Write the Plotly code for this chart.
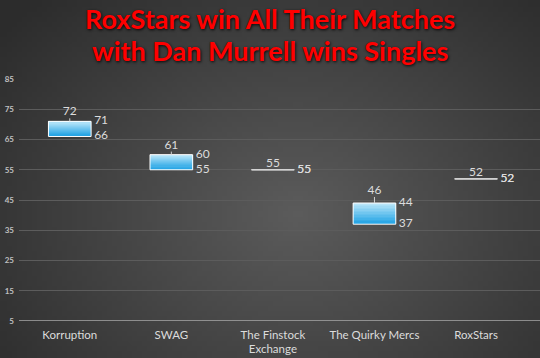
import base64, struct, zlib
import plotly.graph_objects as go

# ---- data ----
teams = ["Korruption", "SWAG", "The Finstock<br>Exchange", "The Quirky Mercs", "RoxStars"]
open_ = [66, 55, 55, 37, 52]
high = [72, 61, 55, 46, 52]
low = [66, 55, 55, 37, 52]
close = [71, 60, 55, 44, 52]
y_ticks = [5, 15, 25, 35, 45, 55, 65, 75, 85]

title_lines = ["RoxStars win All Their Matches", "with Dan Murrell wins Singles"]

W, H = 540, 358
ML, MR, MT, MB = 19, 0, 79, 37
BOX_W = 0.42
LABEL_COLOR = "#dcdcdc"

# ---- background radial gradient as a small PNG ----
def make_png(w, h, cx, cy, inner, outer):
    raw = b""
    for j in range(h):
        raw += b"\x00"
        for i in range(w):
            dx = (i / (w - 1) - cx) * 1.2
            dy = (j / (h - 1) - cy)
            d = min(1.0, (dx * dx + dy * dy) ** 0.5 / 0.85)
            c = [int(inner[k] + (outer[k] - inner[k]) * d) for k in range(3)]
            raw += bytes(c)
    def chunk(t, data):
        return struct.pack(">I", len(data)) + t + data + struct.pack(">I", zlib.crc32(t + data) & 0xffffffff)
    png = b"\x89PNG\r\n\x1a\n"
    png += chunk(b"IHDR", struct.pack(">IIBBBBB", w, h, 8, 2, 0, 0, 0))
    png += chunk(b"IDAT", zlib.compress(raw, 9))
    png += chunk(b"IEND", b"")
    return "data:image/png;base64," + base64.b64encode(png).decode()

bg = make_png(108, 72, 0.55, 0.6, (92, 92, 92), (44, 44, 44))

x = list(range(len(teams)))
fig = go.Figure()

# gradient boxes (open -> close), layered slices
N = 14
bottom_c = (26, 160, 228)
top_c = (190, 232, 250)
for k in range(N):
    t = (k + 0.5) / N
    col = "rgb(%d,%d,%d)" % tuple(int(bottom_c[m] + (top_c[m] - bottom_c[m]) * t) for m in range(3))
    bases, heights = [], []
    for o, c in zip(open_, close):
        lo, hi = min(o, c), max(o, c)
        hgt = hi - lo
        bases.append(lo + hgt * k / N)
        heights.append(hgt / N)
    fig.add_trace(go.Bar(x=x, y=heights, base=bases, width=BOX_W, marker=dict(color=col, line=dict(width=0)),
                         hoverinfo="skip", showlegend=False))

# box outlines
fig.add_trace(go.Bar(x=x, y=[abs(c - o) for o, c in zip(open_, close)], base=[min(o, c) for o, c in zip(open_, close)],
                     width=BOX_W, marker=dict(color="rgba(0,0,0,0)", line=dict(color="white", width=1)),
                     hoverinfo="skip", showlegend=False))

# flat (doji) candles as horizontal lines
fx, fy = [], []
for i, (o, c) in enumerate(zip(open_, close)):
    if o == c:
        fx += [i - BOX_W / 2, i + BOX_W / 2, None]
        fy += [c, c, None]
fig.add_trace(go.Scatter(x=fx, y=fy, mode="lines", line=dict(color="#c8c8c8", width=1.2),
                         hoverinfo="skip", showlegend=False))

# whiskers (high/low lines)
wx, wy = [], []
for i in x:
    top = max(open_[i], close[i])
    bot = min(open_[i], close[i])
    if high[i] > top:
        wx += [i, i, None]; wy += [top, high[i], None]
    if low[i] < bot:
        wx += [i, i, None]; wy += [bot, low[i], None]
fig.add_trace(go.Scatter(x=wx, y=wy, mode="lines", line=dict(color="#d0d0d0", width=1),
                         hoverinfo="skip", showlegend=False))

lab_font = dict(family="Lato, Open Sans, sans-serif", size=12, color=LABEL_COLOR)
LAB_DX = BOX_W / 2 + 0.03
# high labels
fig.add_trace(go.Scatter(x=x, y=high, mode="text", text=[str(v) for v in high], textposition="top center",
                         textfont=lab_font, hoverinfo="skip", showlegend=False))
# close labels
fig.add_trace(go.Scatter(x=[i + LAB_DX for i in x], y=close, mode="text", text=[str(v) for v in close],
                         textposition="middle right", textfont=lab_font, hoverinfo="skip", showlegend=False))
# low labels
fig.add_trace(go.Scatter(x=[i + LAB_DX for i in x], y=low, mode="text", text=[str(v) for v in low],
                         textposition="middle right", textfont=lab_font, hoverinfo="skip", showlegend=False))

pw = W - ML - MR
ph = H - MT - MB
title_font = dict(family="Lato, Open Sans, sans-serif", size=27, color="#ff0000", weight="bold",
                  shadow="1px 1px 3px rgba(0,0,0,0.9)")
title_y_px = [19, 51]
annotations = [dict(text=line, xref="paper", yref="paper", x=(W / 2 - ML) / pw, xanchor="center",
                    y=1 + (MT - ypx) / ph, yanchor="middle", showarrow=False, font=title_font)
               for line, ypx in zip(title_lines, title_y_px)]

fig.update_layout(
    width=W, height=H,
    margin=dict(l=ML, r=MR, t=MT, b=MB, pad=0, autoexpand=False),
    paper_bgcolor="#404040",
    plot_bgcolor="rgba(0,0,0,0)",
    barmode="overlay",
    bargap=0,
    showlegend=False,
    hovermode=False,
    annotations=annotations,
    images=[dict(source=bg, xref="paper", yref="paper", x=-ML / pw, y=1 + MT / ph,
                 sizex=W / pw, sizey=H / ph, sizing="stretch", layer="below", xanchor="left", yanchor="top")],
    xaxis=dict(range=[-0.5, 4.63], tickmode="array", tickvals=x, ticktext=teams, automargin=False,
               showgrid=False, zeroline=False, showline=False, ticks="",
               tickfont=dict(family="Lato, Open Sans, sans-serif", size=11.5, color=LABEL_COLOR),
               ticklabelstandoff=5),
    yaxis=dict(range=[5, 85], tickmode="array", tickvals=y_ticks, ticktext=[str(v) for v in y_ticks],
               automargin=False,
               showgrid=True, gridcolor="#5c5c5c", gridwidth=1, zeroline=False, showline=False, ticks="",
               tickfont=dict(family="Lato, Open Sans, sans-serif", size=8, color="#c0c0c0", weight="bold"),
               ticklabelstandoff=4),
)
# bottom axis line at y=5 (lighter)
fig.add_hline(y=5, line=dict(color="#a8a8a8", width=1.5))

fig.write_html("out.html", config={"displayModeBar": False, "staticPlot": True},
               post_script="document.body.style.margin='0';document.body.style.overflow='hidden';")
